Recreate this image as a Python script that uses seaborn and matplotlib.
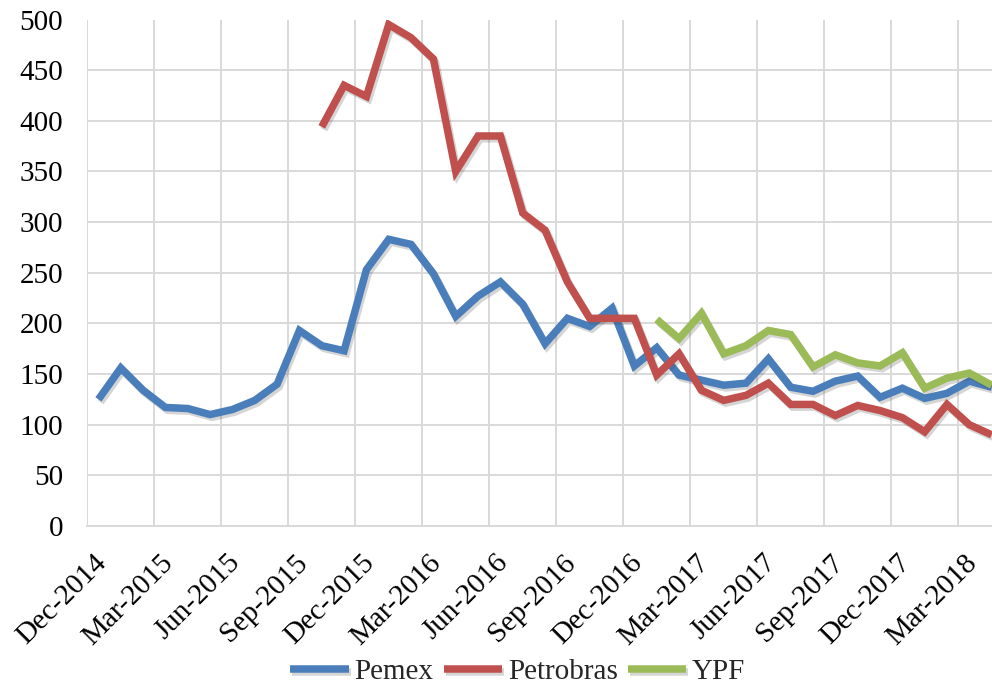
import numpy as np
import pandas as pd
import matplotlib
matplotlib.use("Agg")
import matplotlib.pyplot as plt
import matplotlib.patheffects as pe
import matplotlib.transforms as mtransforms
import seaborn as sns

# ---- data (monthly, Dec-2014 .. Apr-2018) ----
months = ["Dec-2014", "Jan-2015", "Feb-2015", "Mar-2015", "Apr-2015", "May-2015", "Jun-2015",
          "Jul-2015", "Aug-2015", "Sep-2015", "Oct-2015", "Nov-2015", "Dec-2015", "Jan-2016",
          "Feb-2016", "Mar-2016", "Apr-2016", "May-2016", "Jun-2016", "Jul-2016", "Aug-2016",
          "Sep-2016", "Oct-2016", "Nov-2016", "Dec-2016", "Jan-2017", "Feb-2017", "Mar-2017",
          "Apr-2017", "May-2017", "Jun-2017", "Jul-2017", "Aug-2017", "Sep-2017", "Oct-2017",
          "Nov-2017", "Dec-2017", "Jan-2018", "Feb-2018", "Mar-2018", "Apr-2018"]

pemex = [125, 156, 134, 117, 116, 110, 115, 124, 140, 193, 178, 173, 253, 283, 278, 249,
         207, 227, 241, 219, 180, 205, 197, 215, 158, 176, 149, 144, 139, 141, 165, 137,
         133, 143, 148, 127, 136, 126, 131, 143, 137]

nan = np.nan
petrobras = [nan, nan, nan, nan, nan, nan, nan, nan, nan, nan, 394, 435, 424, 495, 482, 461,
             350, 385, 385, 309, 292, 241, 205, 205, 205, 149, 170, 134, 124, 129, 141, 120,
             120, 109, 119, 114, 107, 93, 120, 100, 90]

ypf = [nan] * 25 + [204, 185, 210, 170, 178, 193, 189, 157, 169, 161, 158, 171, 136, 146,
                    151, 139]

tick_labels = ["Dec-2014", "Mar-2015", "Jun-2015", "Sep-2015", "Dec-2015", "Mar-2016",
               "Jun-2016", "Sep-2016", "Dec-2016", "Mar-2017", "Jun-2017", "Sep-2017",
               "Dec-2017", "Mar-2018"]
y_ticks = [0, 50, 100, 150, 200, 250, 300, 350, 400, 450, 500]

series_names = ["Pemex", "Petrobras", "YPF"]
colors = {"Pemex": "#4A7EBB", "Petrobras": "#C0504D", "YPF": "#9BBB59"}

idx = np.arange(len(months))
df = pd.concat([
    pd.DataFrame({"m": idx, "value": pemex, "company": "Pemex"}),
    pd.DataFrame({"m": idx, "value": petrobras, "company": "Petrobras"}),
    pd.DataFrame({"m": idx, "value": ypf, "company": "YPF"}),
]).dropna()

sns.set_theme(style="white")
plt.rcParams["font.family"] = ["Liberation Serif", "DejaVu Serif"]

fig = plt.figure(figsize=(9.92, 6.85), dpi=100)
ax = fig.add_axes([87.3 / 992, 1 - 526 / 685, (992 - 87.3) / 992, (526 - 19.5) / 685])

LW = 5.4
sns.lineplot(data=df, x="m", y="value", hue="company", hue_order=series_names,
             palette=colors, linewidth=LW, ax=ax, estimator=None, sort=True)

for ln in ax.get_lines():
    ln.set_path_effects([pe.SimpleLineShadow(offset=(1.5, -2.0), alpha=0.22,
                                             shadow_color="#444444"),
                         pe.Normal()])
    ln.set_solid_joinstyle("miter")
    ln.set_solid_capstyle("butt")

ax.set_xlim(-0.5, -0.5 + (992 - 87.3) / 22.33)
ax.set_ylim(0, 500)
xt = [i * 3 - 0.5 for i in range(len(tick_labels))]
ax.set_xticks(xt)
ax.set_xticklabels(tick_labels)
ax.set_yticks(y_ticks)
ax.set_yticklabels([str(v) for v in y_ticks])

ax.grid(True, color="#D9D9D9", linewidth=1.4)
ax.set_axisbelow(True)
for s in ["top", "right", "left"]:
    ax.spines[s].set_visible(False)
ax.spines["bottom"].set_color("#D9D9D9")
ax.spines["bottom"].set_linewidth(1.4)

ax.tick_params(axis="y", length=0, pad=17.5, labelsize=21, labelcolor="black")
ax.tick_params(axis="x", length=5, width=1.4, color="#D9D9D9", pad=12,
               labelsize=21, labelcolor="black")
offset = mtransforms.ScaledTranslation(6 / 100, 0, fig.dpi_scale_trans)
for lab in ax.get_xticklabels():
    lab.set_rotation(45)
    lab.set_ha("right")
    lab.set_va("top")
    lab.set_rotation_mode("anchor")
    lab.set_transform(lab.get_transform() + offset)

ax.set_xlabel("")
ax.set_ylabel("")

leg = ax.legend(loc="center", bbox_to_anchor=(0.476, -0.288), ncol=3, frameon=False,
                fontsize=21, handlelength=2.0, handletextpad=0.2, columnspacing=0.35,
                borderaxespad=0)
for h in leg.get_lines():
    h.set_linewidth(LW)

fig.savefig("out.png", dpi=100, facecolor="white")
